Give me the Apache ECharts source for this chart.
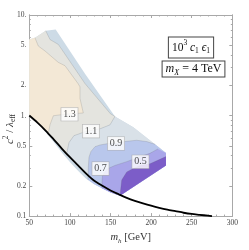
<!DOCTYPE html>
<html><head><meta charset="utf-8">
<script src="https://cdn.jsdelivr.net/npm/echarts@6/dist/echarts.min.js"></script>
<style>html,body{margin:0;padding:0;background:#fff}#c{width:249px;height:250px}</style>
</head><body><div id="c"></div>
<script>
// ---- axis ticks ----
const xMin = 50, xMax = 300, xStep = 50;
const yTickVals = [0.1, 0.2, 0.5, 1, 2, 5, 10];
const yTickLabels = ['0.1', '0.2', '0.5', '1.', '2.', '5.', '10.'];
const yMinorVals = [0.3, 0.4, 0.6, 0.7, 0.8, 0.9, 3, 4, 6, 7, 8, 9];

// ---- lower bound curve (m_h [GeV], c^2/lambda_eff) ----
const curveM = [50, 60, 70, 80, 90, 100, 110, 120, 130, 140, 150, 160, 170, 180, 190, 200, 210, 220, 230, 240, 250, 260, 270, 275];
const curveV = [1.00, 0.85, 0.71, 0.58, 0.47, 0.385, 0.32, 0.265, 0.225, 0.20, 0.18, 0.165, 0.152, 0.142, 0.134, 0.127, 0.121, 0.116, 0.112, 0.108, 0.105, 0.103, 0.101, 0.100];

// ---- contour lines ----
const c13M = [57.0, 61.1, 69.3, 85.7, 94.0, 110.0, 112.4, 112.4, 116.5, 100, 85.3, 79.6, 75.5, 73.6];
const c13V = [5.93, 4.91, 4.39, 3.38, 3.13, 2.08, 1.93, 1.48, 1.06, 1.04, 1.01, 0.995, 0.81, 0.675];
const cBandM = [70.2, 75.5, 85.7, 89.9, 118.6, 150.0, 155.5];
const cBandV = [6.98, 5.70, 5.10, 4.56, 2.08, 1.04, 0.98];
const c11M = [155.5, 149.4, 137.1, 118.6, 105.0, 98.9, 96.4, 96.0];
const c11V = [0.98, 0.808, 0.738, 0.690, 0.631, 0.539, 0.431, 0.40];
const c09M = [204.8, 194.6, 182.3, 166.6, 156.8, 147.3, 137.1, 130.9, 126.0, 123.5, 122.7, 122.3];
const c09V = [0.518, 0.551, 0.568, 0.551, 0.527, 0.527, 0.510, 0.490, 0.440, 0.385, 0.308, 0.23];
const c07M = [208.5, 198.6, 186.3, 170.0, 155.5, 145.7, 140.1, 139.5, 139.5];
const c07V = [0.466, 0.421, 0.389, 0.348, 0.319, 0.294, 0.251, 0.215, 0.189];
const c05M = [218.3, 198.6, 186.3, 178.1, 170.0, 163.8, 162.2, 161.7];
const c05V = [0.391, 0.331, 0.318, 0.298, 0.275, 0.228, 0.175, 0.159];

// ---- region outlines (closing parts) ----
const outerM = [50, 57.0, 70.2, 82.5, 118.6, 155.5, 178.1, 218.3, 218.3, 161.7, 150, 140, 130, 120, 110, 100, 90, 80, 70, 62, 50];
const outerV = [5.70, 5.93, 6.98, 7.19, 2.60, 0.98, 0.767, 0.424, 0.319, 0.159, 0.172, 0.188, 0.207, 0.235, 0.283, 0.345, 0.43, 0.545, 0.69, 0.83, 1.0];
const beigeCloseM = [70, 60, 50, 50];
const beigeCloseV = [0.71, 0.85, 1.0, 5.70];
const greyCloseM = [90, 80, 70, 60, 50, 50, 57.0];
const greyCloseV = [0.47, 0.58, 0.71, 0.85, 1.0, 5.70, 5.93];
const lCloseM = [100, 110, 120, 130, 140, 150, 160, 161.7, 218.3, 218.3, 178.1];
const lCloseV = [0.385, 0.32, 0.265, 0.225, 0.20, 0.18, 0.165, 0.159, 0.319, 0.424, 0.767];
const mCloseM = [130, 140, 150, 161.7, 218.3, 218.3];
const mCloseV = [0.207, 0.188, 0.172, 0.159, 0.319, 0.424];
const vCloseM = [150, 161.7, 218.3, 218.3];
const vCloseV = [0.172, 0.159, 0.319, 0.424];
const pCloseM = [218.3];
const pCloseV = [0.319];

// ---- contour labels ----
const labM = [99.5, 126, 156.8, 137.7, 186.9];
const labV = [1.03, 0.70, 0.527, 0.297, 0.347];
const labT = ['1.3', '1.1', '0.9', '0.7', '0.5'];

const L = Math.log10;
const serif = "'Liberation Serif','DejaVu Serif',serif";

function poly(ms, vs, color, z) {
  return {
    type: 'custom', coordinateSystem: 'cartesian2d', silent: true, z: z,
    data: [[ms[0], L(vs[0])]],
    renderItem: function (params, api) {
      const pts = ms.map((m, i) => api.coord([m, L(vs[i])]));
      return { type: 'polygon', shape: { points: pts }, style: { fill: color, stroke: null } };
    }
  };
}
function line(ms, vs, color, w, z, smooth) {
  return {
    type: 'line', silent: true, z: z, symbol: 'none', smooth: smooth || false,
    data: ms.map((m, i) => [m, L(vs[i])]),
    lineStyle: { color: color, width: w }
  };
}
const cat = (a, b) => a.concat(b);

const contourCol = 'rgba(90,90,90,0.3)';
const series = [
  poly(outerM, outerV, '#cddbe6', 1),
  poly(cat([57.0], cat(cBandM, cat(c11M, greyCloseM))), cat([5.93], cat(cBandV, cat(c11V, greyCloseV))), '#e4e4df', 2),
  poly(cat(c13M, beigeCloseM), cat(c13V, beigeCloseV), '#f3e8d6', 3),
  poly(cat(c11M, lCloseM), cat(c11V, lCloseV), '#d9e1e8', 4),
  poly(cat(c09M, mCloseM), cat(c09V, mCloseV), '#b9c7ec', 5),
  poly(cat(c07M, vCloseM), cat(c07V, vCloseV), '#a9a6e9', 6),
  poly(cat(c05M, pCloseM), cat(c05V, pCloseV), '#7c5dc8', 7),
  line(c13M, c13V, contourCol, 0.6, 8),
  line(cBandM, cBandV, contourCol, 0.6, 8),
  line(c11M, c11V, contourCol, 0.6, 8),
  line(c09M, c09V, contourCol, 0.6, 8),
  line(c07M, c07V, contourCol, 0.6, 8),
  line(c05M, c05V, contourCol, 0.6, 8),
  line(curveM, curveV, '#000', 1.8, 10, 0.3),
  {
    type: 'scatter', z: 12, silent: true, symbol: 'circle', symbolSize: 2,
    itemStyle: { color: 'rgba(0,0,0,0)' },
    data: labM.map((m, i) => ({ value: [m, L(labV[i])], name: labT[i] })),
    label: {
      show: true, position: 'inside', formatter: p => p.name,
      fontFamily: serif, fontSize: 10, color: '#222',
      backgroundColor: '#fff', borderColor: '#aaa', borderWidth: 0.6, padding: [2, 2, 1, 2]
    },
    labelLayout: { hideOverlap: false }
  }
];

const frameCol = '#a8a8a8';
const tickLab = { fontFamily: serif, fontSize: 7.5, color: '#444' };
function yAx(pos, vals, len, labels) {
  return {
    type: 'value', min: -1, max: 1, position: pos,
    axisLine: { show: true, onZero: false, lineStyle: { color: frameCol, width: 1 } },
    splitLine: { show: false },
    axisTick: { show: true, inside: true, length: len, lineStyle: { color: frameCol }, customValues: vals.map(L) },
    axisLabel: labels ? Object.assign({
      show: true, margin: 3, customValues: vals.map(L),
      formatter: function (v) {
        for (let i = 0; i < yTickVals.length; i++) if (Math.abs(L(yTickVals[i]) - v) < 1e-6) return yTickLabels[i];
        return '';
      }
    }, tickLab) : { show: false }
  };
}
function xAx(pos, labels) {
  return {
    type: 'value', min: xMin, max: xMax, interval: xStep, position: pos,
    axisLine: { show: true, onZero: false, lineStyle: { color: frameCol, width: 1 } },
    splitLine: { show: false },
    axisTick: { show: true, inside: true, length: 3, lineStyle: { color: frameCol } },
    minorTick: { show: true, splitNumber: 5, length: 1.5, lineStyle: { color: frameCol } },
    axisLabel: labels ? Object.assign({ show: true, margin: 3 }, tickLab) : { show: false },
    name: labels ? '{i|m}{s|h}{n| [GeV]}' : '',
    nameLocation: 'middle', nameGap: 13,
    nameTextStyle: {
      fontFamily: serif, color: '#333',
      rich: {
        i: { fontFamily: serif, fontStyle: 'italic', fontSize: 10.5, color: '#333', verticalAlign: 'bottom', padding: [0, 0, 2, 0] },
        s: { fontFamily: serif, fontStyle: 'italic', fontSize: 7, color: '#333', verticalAlign: 'bottom', padding: [0, 0, 0, 0] },
        n: { fontFamily: serif, fontSize: 10.5, color: '#333', verticalAlign: 'bottom', padding: [0, 0, 2, 0] }
      }
    }
  };
}

const chart = echarts.init(document.getElementById('c'), null, { renderer: 'canvas' });
chart.setOption({
  animation: false,
  backgroundColor: '#fff',
  grid: { left: 29.3, right: 16.7, top: 15, bottom: 30, containLabel: false },
  xAxis: [xAx('bottom', true), xAx('top', false)],
  yAxis: [yAx('left', yTickVals, 3, true), yAx('left', yMinorVals, 1.5, false), yAx('right', yTickVals, 3, false), yAx('right', yMinorVals, 1.5, false)],
  series: series,
  graphic: [
    {
      type: 'text', x: 10, y: 129, rotation: Math.PI / 2,
      style: {
        text: '{i|c}{p|2}{n| / }{i|λ}{s|eff}', align: 'center', verticalAlign: 'middle',
        rich: {
          i: { fontFamily: serif, fontStyle: 'italic', fontSize: 11, fill: '#333', verticalAlign: 'bottom', padding: [0, 0, 2, 0] },
          n: { fontFamily: serif, fontSize: 11, fill: '#333', verticalAlign: 'bottom', padding: [0, 0, 2, 0] },
          p: { fontFamily: serif, fontSize: 7.5, fill: '#333', verticalAlign: 'bottom', padding: [0, 0, 7, 0] },
          s: { fontFamily: serif, fontSize: 7.5, fill: '#333', verticalAlign: 'bottom', padding: [0, 0, 0, 0] }
        }
      }
    },
    {
      type: 'text', x: 191, y: 47.5, z: 20,
      style: {
        text: '{n|10}{p|3}{n| }{i|c}{s|1}{n| }{i|ϵ}{s|1}', align: 'center', verticalAlign: 'middle',
        backgroundColor: '#fff', borderColor: '#444', borderWidth: 1, padding: [2, 3, 2, 3],
        rich: {
          i: { fontFamily: serif, fontStyle: 'italic', fontSize: 11.5, fill: '#111', verticalAlign: 'bottom', padding: [0, 0, 2, 0] },
          n: { fontFamily: serif, fontSize: 11.5, fill: '#111', verticalAlign: 'bottom', padding: [0, 0, 2, 0] },
          p: { fontFamily: serif, fontSize: 7.5, fill: '#111', verticalAlign: 'bottom', padding: [0, 0, 8, 0] },
          s: { fontFamily: serif, fontSize: 7.5, fill: '#111', verticalAlign: 'bottom', padding: [0, 0, 0, 0] }
        }
      }
    },
    {
      type: 'text', x: 193.5, y: 69, z: 20,
      style: {
        text: '{i|m}{s|X}{n| = 4 TeV}', align: 'center', verticalAlign: 'middle',
        backgroundColor: '#fff', borderColor: '#444', borderWidth: 1, padding: [1, 3, 0, 3],
        rich: {
          i: { fontFamily: serif, fontStyle: 'italic', fontSize: 12, fill: '#111', verticalAlign: 'bottom', padding: [0, 0, 2, 0] },
          n: { fontFamily: serif, fontSize: 12, fill: '#111', verticalAlign: 'bottom', padding: [0, 0, 2, 0] },
          s: { fontFamily: serif, fontStyle: 'italic', fontSize: 8, fill: '#111', verticalAlign: 'bottom', padding: [0, 0, 0, 0] }
        }
      }
    }
  ]
});
</script>
</body></html>
